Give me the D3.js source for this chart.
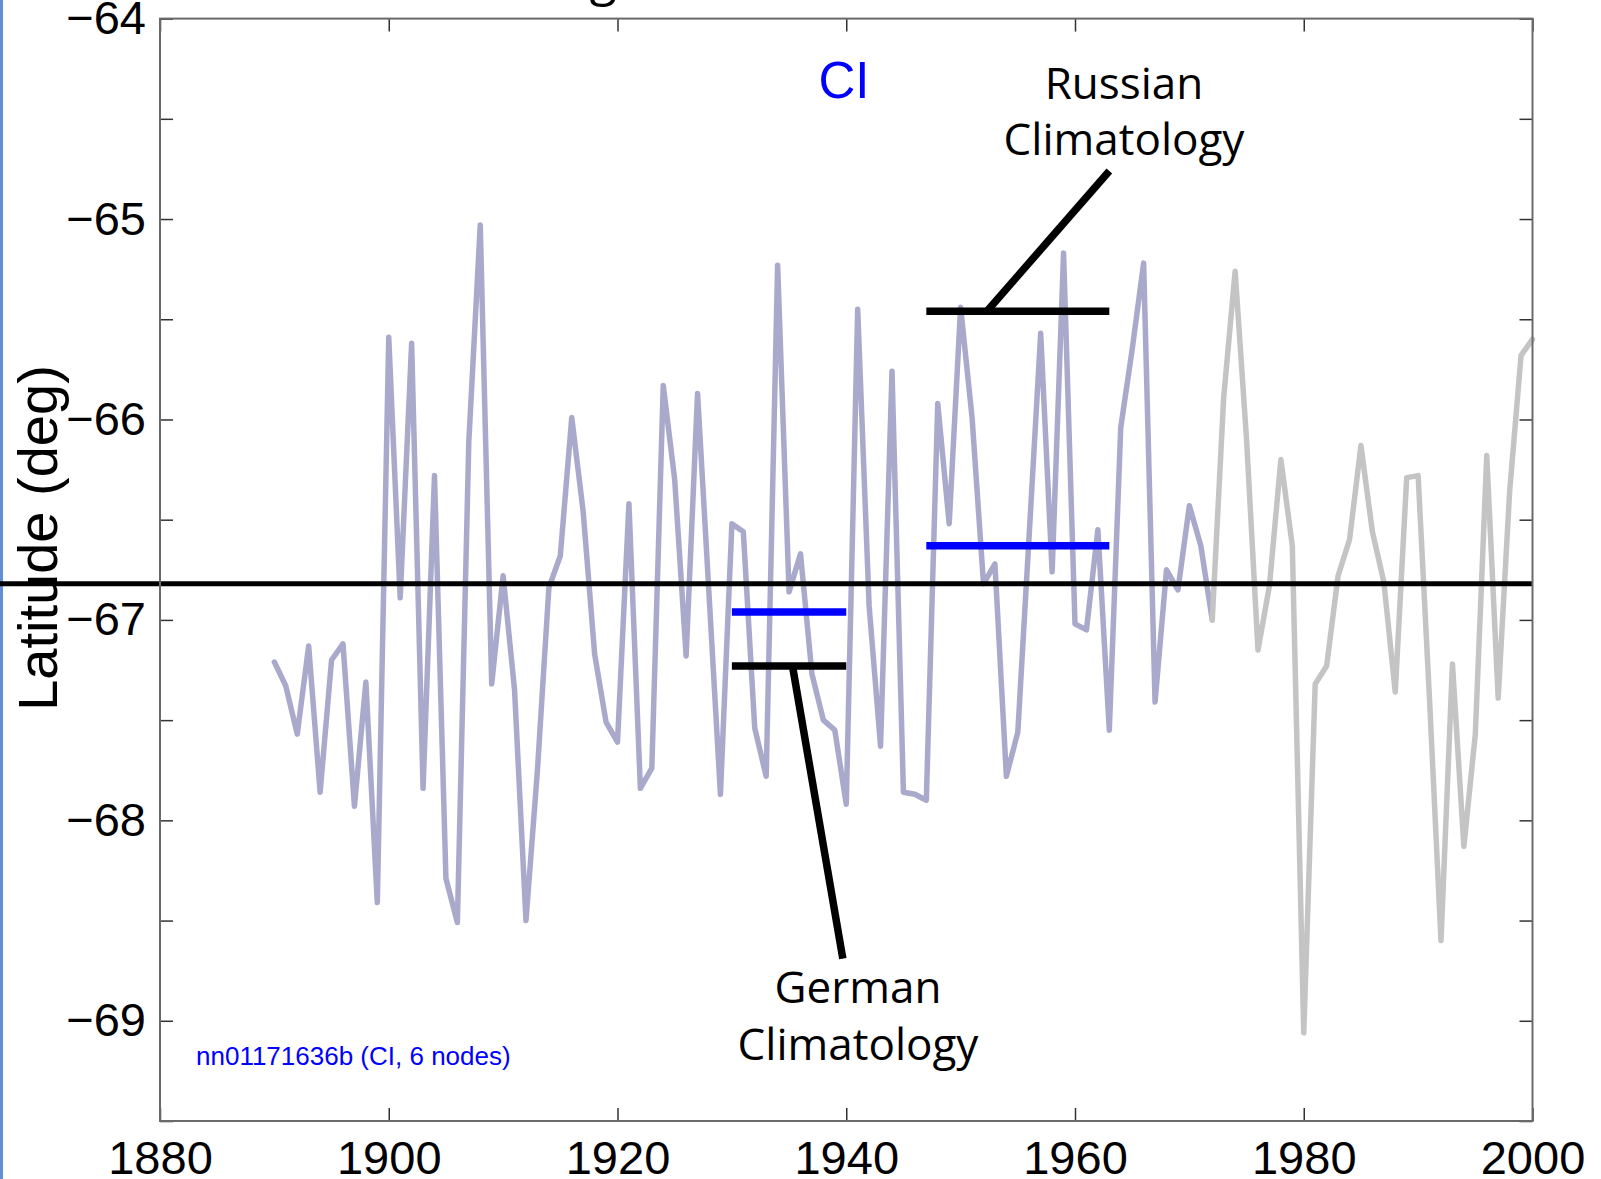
<!DOCTYPE html>
<html>
<head>
<meta charset="utf-8">
<script src="https://cdn.jsdelivr.net/npm/d3@7"></script>
<style>
  html, body { margin: 0; padding: 0; background: #fff; overflow: hidden; }
  svg { display: block; }
</style>
</head>
<body>
<svg id="chart" width="1601" height="1179"></svg>
<script>
// Annual ice-edge latitude, CI node series (deg)
const yearsEarly = d3.range(1890, 1973);
const latEarly = [
  -67.21, -67.33, -67.57, -67.13, -67.86, -67.20, -67.12, -67.93, -67.31, -68.41,
  -65.59, -66.89, -65.62, -67.84, -66.28, -68.29, -68.51, -66.11, -65.03, -67.32,
  -66.78, -67.35, -68.50, -67.75, -66.84, -66.68, -65.99, -66.46, -67.17, -67.51,
  -67.61, -66.42, -67.84, -67.74, -65.83, -66.30, -67.18, -65.87, -66.87, -67.87,
  -66.52, -66.56, -67.54, -67.78, -65.23, -66.86, -66.67, -67.27, -67.50, -67.55,
  -67.92, -65.45, -66.93, -67.63, -65.76, -67.86, -67.87, -67.90, -65.92, -66.52,
  -65.44, -65.99, -66.82, -66.72, -67.78, -67.56, -66.57, -65.57, -66.76, -65.17,
  -67.02, -67.05, -66.55, -67.55, -66.04, -65.65, -65.22, -67.41, -66.75, -66.85,
  -66.43, -66.63, -67.00
];
const yearsLate = d3.range(1972, 2001);
const latLate = [
  -67.00, -65.89, -65.26, -66.10, -67.15, -66.83, -66.20, -66.63, -69.06, -67.32,
  -67.23, -66.78, -66.60, -66.13, -66.56, -66.81, -67.36, -66.29, -66.28, -67.40,
  -68.60, -67.22, -68.13, -67.57, -66.18, -67.39, -66.36, -65.68, -65.60
];

// Long-term mean latitude
const meanLat = -66.82;

// Climatology periods: [start, end] and CI mean / climatology value
const germanPeriod = [1930, 1940];
const germanValues = { ci: -66.96, clim: -67.23 };
const russianPeriod = [1947, 1963];
const russianValues = { ci: -66.63, clim: -65.46 };

// Leader lines from climatology bars to their labels: [year, lat] pairs
const germanLeader = [[1935.3, -67.23], [1939.7, -68.69]];
const russianLeader = [[1952.3, -65.46], [1963.0, -64.76]];

const xTicks = [1880, 1900, 1920, 1940, 1960, 1980, 2000];
const yTicks = d3.range(-69.5, -63.99, 0.5);

const svg = d3.select("#chart");
const W = 1601, H = 1179;
const plot = { left: 160, right: 1532.5, top: 18.6, bottom: 1121 };

svg.append("rect").attr("width", W).attr("height", H).attr("fill", "#fff");

const x = d3.scaleLinear().domain([1880, 2000]).range([plot.left, plot.right]);
const y = d3.scaleLinear().domain([-69.5, -64]).range([plot.bottom, plot.top]);

// window edge strip on the left
svg.append("rect").attr("x", 0).attr("y", 0).attr("width", 3).attr("height", H)
  .attr("fill", "#5f8fd4");

// partial title glyph above the axes
svg.append("text").attr("x", 603).attr("y", -5)
  .attr("text-anchor", "middle")
  .attr("font-family", "'Open Sans', sans-serif").attr("font-size", 50)
  .attr("fill", "#000").text("g");

const line = d3.line().x(d => x(d[0])).y(d => y(d[1]));

// series
svg.append("path")
  .datum(yearsEarly.map((yr, i) => [yr, latEarly[i]]))
  .attr("d", line).attr("fill", "none")
  .attr("stroke", "#a9aacb").attr("stroke-width", 5.5)
  .attr("stroke-linejoin", "round").attr("stroke-linecap", "round");

svg.append("path")
  .datum(yearsLate.map((yr, i) => [yr, latLate[i]]))
  .attr("d", line).attr("fill", "none")
  .attr("stroke", "#c4c4c4").attr("stroke-width", 5.5)
  .attr("stroke-linejoin", "round").attr("stroke-linecap", "round");

// mean line, running from the page edge to the right axis
svg.append("line")
  .attr("x1", x(x.invert(0))).attr("x2", x(2000))
  .attr("y1", y(meanLat)).attr("y2", y(meanLat))
  .attr("stroke", "#000").attr("stroke-width", 5);

// climatology bars
function bar(period, val, color) {
  svg.append("line")
    .attr("x1", x(period[0])).attr("x2", x(period[1]))
    .attr("y1", y(val)).attr("y2", y(val))
    .attr("stroke", color).attr("stroke-width", 7.5);
}
bar(germanPeriod, germanValues.ci, "#0000ff");
bar(germanPeriod, germanValues.clim, "#000");
bar(russianPeriod, russianValues.ci, "#0000ff");
bar(russianPeriod, russianValues.clim, "#000");

svg.append("path").datum(germanLeader).attr("d", line)
  .attr("fill", "none").attr("stroke", "#000").attr("stroke-width", 7.5);
svg.append("path").datum(russianLeader).attr("d", line)
  .attr("fill", "none").attr("stroke", "#000").attr("stroke-width", 7.5);

// annotation labels
const annFont = "'Open Sans', 'Noto Sans', sans-serif";
function label(lines, cx, y0, dy) {
  lines.forEach((t, i) => {
    svg.append("text").attr("x", cx).attr("y", y0 + i * dy)
      .attr("text-anchor", "middle")
      .attr("font-family", annFont).attr("font-size", 44)
      .attr("fill", "#000").text(t);
  });
}
label(["Russian", "Climatology"], 1124, 99, 56);
label(["German", "Climatology"], 858, 1003, 57);

svg.append("text").attr("x", x(1939.8)).attr("y", 98)
  .attr("text-anchor", "middle")
  .attr("font-family", "'Liberation Sans', Arial, sans-serif").attr("font-size", 51)
  .attr("fill", "#0000ff").text("CI");

svg.append("text").attr("x", 196).attr("y", 1065)
  .attr("font-family", "'Liberation Sans', Arial, sans-serif").attr("font-size", 26)
  .attr("fill", "#0000ff").text("nn01171636b (CI, 6 nodes)");

// axes (ticks point inward)
const tickFont = "'Liberation Sans', Arial, sans-serif";
const yFmt = v => Number.isInteger(v) ? d3.format("d")(v) : "";

const gBottom = svg.append("g").attr("transform", `translate(0,${plot.bottom})`)
  .call(d3.axisBottom(x).tickValues(xTicks).tickFormat(d3.format("d"))
    .tickSize(-13).tickPadding(20));
const gTop = svg.append("g").attr("transform", `translate(0,${plot.top})`)
  .call(d3.axisTop(x).tickValues(xTicks).tickFormat("").tickSize(-13));
const gLeft = svg.append("g").attr("transform", `translate(${plot.left},0)`)
  .call(d3.axisLeft(y).tickValues(yTicks).tickFormat(yFmt)
    .tickSize(-13).tickPadding(14));
const gRight = svg.append("g").attr("transform", `translate(${plot.right},0)`)
  .call(d3.axisRight(y).tickValues(yTicks).tickFormat("").tickSize(-13));

[gBottom, gTop, gLeft, gRight].forEach(g => {
  g.select(".domain").remove();
  g.selectAll(".tick line").attr("stroke", "#333").attr("stroke-width", 1.5);
  g.selectAll(".tick text").attr("font-family", tickFont)
    .attr("font-size", 47).attr("fill", "#000");
});

// axes box
svg.append("rect")
  .attr("x", plot.left).attr("y", plot.top)
  .attr("width", plot.right - plot.left).attr("height", plot.bottom - plot.top)
  .attr("fill", "none").attr("stroke", "#6a6a6a").attr("stroke-width", 2);

// y axis title
svg.append("text")
  .attr("transform", `translate(57,538) rotate(-90)`)
  .attr("text-anchor", "middle")
  .attr("font-family", tickFont).attr("font-size", 56)
  .attr("fill", "#000").text("Latitude (deg)");
</script>
</body>
</html>
